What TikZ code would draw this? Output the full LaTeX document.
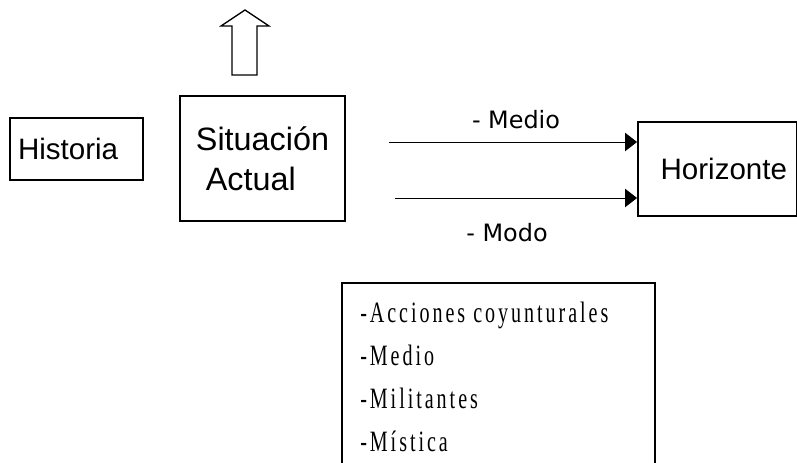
\documentclass[tikz,border=0pt]{standalone}
\usepackage{fontspec}
\setmainfont{Liberation Sans}
\newfontfamily\labelfont{DejaVu Sans}
\newfontfamily\listfont[FakeStretch=0.68, LetterSpace=10]{Liberation Serif}
\usetikzlibrary{arrows.meta}

\begin{document}
\begin{tikzpicture}[x=0.025cm, y=-0.025cm,
        box/.style={draw, line width=1.3pt, inner sep=0pt, font=\fontsize{21}{28.5}\selectfont},
        flow/.style={-{Triangle[length=8.5pt, width=13pt]}, line width=0.7pt}]
        \useasboundingbox (0,0) rectangle (797,462);

        \node[box, minimum width=3.325cm, minimum height=1.55cm] (historia) at (76.5,149) {Historia\hspace*{12pt}};
        \node[box, minimum width=4.125cm, minimum height=3.125cm, align=left, font=\fontsize{23}{28.5}\selectfont] (situacion) at (262.5,158.5) {Situación\\\hspace*{7pt}Actual};
        \node[box, minimum width=3.975cm, minimum height=2.35cm] (horizonte) at (717.5,169) {\hspace*{9pt}Horizonte};

        % flecha hacia arriba
        \draw[line width=0.9pt] (232,75) -- (232,26) -- (221,26) -- (245,10) -- (269,26) -- (257,26) -- (257,75) -- cycle;

        \coordinate (medio) at (389,142);
        \coordinate (modo) at (395,198);
        \draw[flow] (medio) -- (medio -| horizonte.west);
        \draw[flow] (modo) -- (modo -| horizonte.west);
        \node[font=\labelfont\fontsize{17}{20}\selectfont] (lmedio) at (516,120) {- Medio};
        \node[font=\labelfont\fontsize{17}{20}\selectfont] (lmodo) at (507,233) {- Modo};

        % cuadro inferior
        \draw[line width=1pt] (342,470) -- (342,283) -- (655,283) -- (655,470);
        \node[anchor=north west, inner sep=0pt, align=left, font=\listfont\fontsize{21}{30.4}\selectfont] (lista) at (360,302)
            {-Acciones coyunturales\\-Medio\\-Militantes\\-Mística};
\end{tikzpicture}
\end{document}
